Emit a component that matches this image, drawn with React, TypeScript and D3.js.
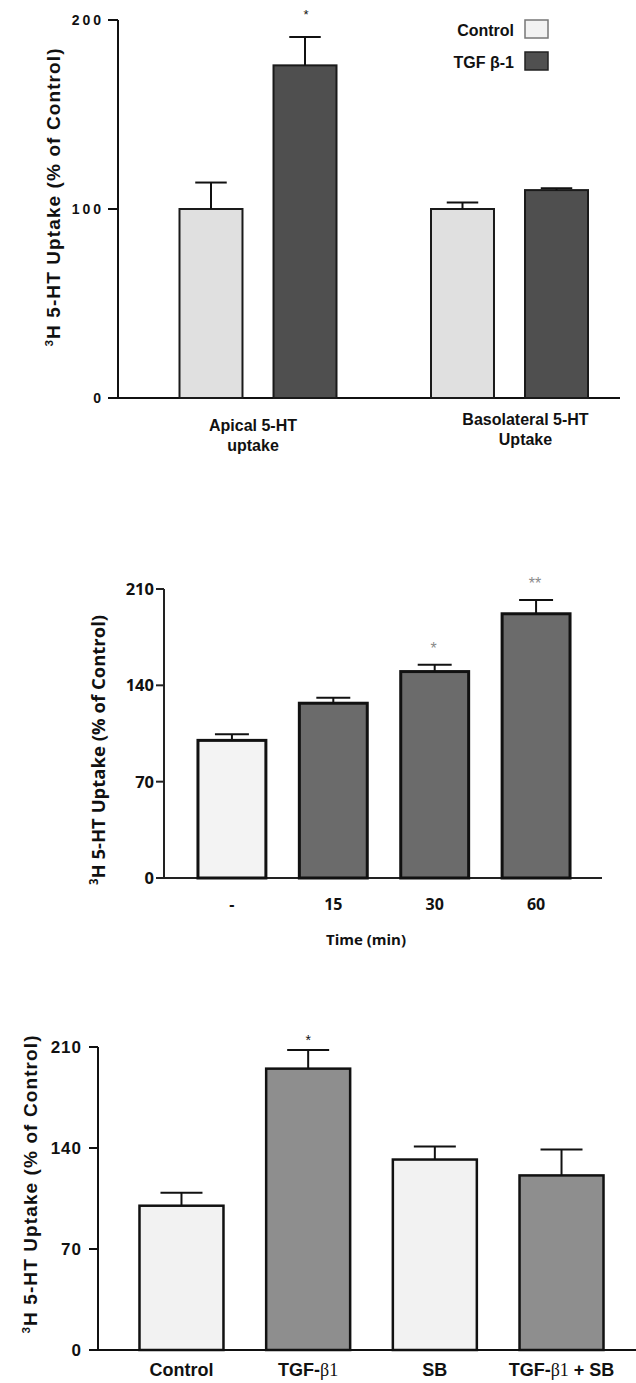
import * as d3 from 'd3'

// panel A: apical vs basolateral uptake
const regions = ['Apical 5-HT uptake', 'Basolateral 5-HT Uptake']
const regionLines = [['Apical 5-HT', 'uptake'], ['Basolateral 5-HT', 'Uptake']]
const series = ['Control', 'TGF β-1']
const controlMean = [100, 100]
const controlErr = [14, 3.5]
const tgfMean = [176, 110]
const tgfErr = [15, 1]
const regionStars = ['', '']
const tgfStars = ['*', '']
const ticksA = [0, 100, 200]

// panel B: time course
const times = ['-', '15', '30', '60']
const timeMean = [100, 127, 150, 192]
const timeErr = [4.5, 4, 5, 10]
const timeStars = ['', '', '*', '**']
const ticksB = [0, 70, 140, 210]

// panel C: inhibitor
const treatments = ['Control', 'TGF-β1', 'SB', 'TGF-β1 + SB']
const treatMean = [100, 195, 132, 121]
const treatErr = [9, 13, 9, 18]
const treatStars = ['', '*', '', '']
const ticksC = [0, 70, 140, 210]

const ARIAL = "'Liberation Sans', Arial, sans-serif"
const CAL = "'Open Sans', 'Noto Sans', sans-serif"
const SERIF = "'Liberation Serif', 'DejaVu Serif', serif"

function YLabel({ x, y, font, size, spacing }: any) {
  return (
    <text
      transform={`translate(${x},${y}) rotate(-90)`}
      textAnchor="middle"
      fontFamily={font}
      fontWeight="bold"
      fontSize={size}
      letterSpacing={spacing}
      fill="#111"
    >
      <tspan fontSize={size * 0.62} dy={-size * 0.38}>3</tspan>
      <tspan dy={size * 0.38}>H 5-HT Uptake (% of Control)</tspan>
    </text>
  )
}

function Beta({ text }: { text: string }) {
  // β and the following 1 are set in a serif face in the original
  const i = text.indexOf('β')
  if (i < 0) return <>{text}</>
  return (
    <>
      <tspan>{text.slice(0, i)}</tspan>
      <tspan fontFamily={SERIF} fontWeight="normal">β1</tspan>
      <tspan>{text.slice(i + 2)}</tspan>
    </>
  )
}

function ErrBar({ x, top, cap, half }: any) {
  return (
    <g stroke="#111" strokeWidth={2}>
      <line x1={x} x2={x} y1={top} y2={cap} />
      <line x1={x - half} x2={x + half} y1={cap} y2={cap} />
    </g>
  )
}

function PanelA() {
  const y = d3.scaleLinear().domain([0, 200]).range([398, 20])
  const x0 = d3.scalePoint<string>().domain(regions).range([258, 509.5])
  const x1 = d3.scaleBand<string>().domain(series).range([-78.5, 78.5]).paddingInner(0.33)
  const bw = x1.bandwidth()
  const fills = ['#e0e0e0', '#4f4f4f']
  const means = [controlMean, tgfMean]
  const errs = [controlErr, tgfErr]
  const stars = [regionStars, tgfStars]
  const labelShift = [-5, 16]
  const labelY = [431, 425]

  return (
    <g>
      <g stroke="#111" strokeWidth={2}>
        <line x1={118} x2={118} y1={y(200)} y2={y(0)} />
        <line x1={108} x2={620} y1={y(0)} y2={y(0)} />
        {ticksA.map(t => (
          <line key={t} x1={108} x2={118} y1={y(t)} y2={y(t)} />
        ))}
      </g>
      {ticksA.map(t => (
        <text key={t} x={104} y={y(t)} dy="0.36em" textAnchor="end" fontFamily={ARIAL}
          fontWeight="bold" fontSize={14} letterSpacing={3} fill="#111">{t}</text>
      ))}
      {regions.map((r, gi) => (
        <g key={r}>
          {series.map((s, si) => {
            const cx = x0(r)! + x1(s)! + bw / 2
            const top = y(means[si][gi])
            const cap = y(means[si][gi] + errs[si][gi])
            return (
              <g key={s}>
                <rect x={cx - bw / 2} y={top} width={bw} height={y(0) - top}
                  fill={fills[si]} stroke="#1a1a1a" strokeWidth={2} />
                <ErrBar x={cx} top={top} cap={cap} half={bw / 4} />
                {stars[si][gi] && (
                  <text x={cx + 1} y={19} textAnchor="middle" fontFamily={ARIAL}
                    fontSize={13} fill="#111">{stars[si][gi]}</text>
                )}
              </g>
            )
          })}
          {regionLines[gi].map((ln, li) => (
            <text key={li} x={x0(r)! + labelShift[gi]} y={labelY[gi] + li * 20} textAnchor="middle"
              fontFamily={ARIAL} fontWeight="bold" fontSize={16} fill="#111">{ln}</text>
          ))}
        </g>
      ))}
      {series.map((s, si) => (
        <g key={s}>
          <text x={514} y={36 + si * 32} textAnchor="end" fontFamily={ARIAL}
            fontWeight="bold" fontSize={16} fill="#111">{s}</text>
          <rect x={525} y={20 + si * 32} width={23} height={18}
            fill={si === 0 ? '#f2f2f2' : '#505050'} stroke={si === 0 ? '#777' : '#222'} strokeWidth={1.5} />
        </g>
      ))}
      <YLabel x={60} y={197} font={ARIAL} size={19} spacing={1.1} />
    </g>
  )
}

function PanelB() {
  const y = d3.scaleLinear().domain([0, 210]).range([878, 589])
  const x = d3.scaleBand<string>().domain(times).range([164, 604]).paddingInner(0.33).paddingOuter(0.335)
  const bw = x.bandwidth()

  return (
    <g>
      <g stroke="#222" strokeWidth={2}>
        <line x1={164} x2={164} y1={y(210)} y2={y(0)} />
        <line x1={156} x2={602} y1={y(0)} y2={y(0)} />
        {ticksB.map(t => (
          <line key={t} x1={156} x2={164} y1={y(t)} y2={y(t)} />
        ))}
      </g>
      {ticksB.map(t => (
        <text key={t} x={154} y={y(t)} dy="0.36em" textAnchor="end" fontFamily={CAL}
          fontWeight="bold" fontSize={16.5} fill="#111">{t}</text>
      ))}
      {times.map((t, i) => {
        const cx = x(t)! + bw / 2
        const top = y(timeMean[i])
        const cap = y(timeMean[i] + timeErr[i])
        return (
          <g key={t}>
            <rect x={x(t)!} y={top} width={bw} height={y(0) - top}
              fill={i === 0 ? '#f3f3f3' : '#6b6b6b'} stroke="#111" strokeWidth={3} />
            <ErrBar x={cx} top={top} cap={cap} half={bw / 4} />
            {timeStars[i] && (
              <text x={cx - 1} y={cap - 11} textAnchor="middle" fontFamily={ARIAL}
                fontSize={16} fill="#8a8a8a">{timeStars[i]}</text>
            )}
            <text x={cx} y={910} textAnchor="middle" fontFamily={CAL}
              fontWeight="bold" fontSize={16} fill="#111">{t}</text>
          </g>
        )
      })}
      <text x={366} y={945} textAnchor="middle" fontFamily={CAL} fontWeight="bold"
        fontSize={15} fill="#111">Time (min)</text>
      <YLabel x={105} y={750} font={CAL} size={18.5} spacing={0} />
    </g>
  )
}

function PanelC() {
  const y = d3.scaleLinear().domain([0, 210]).range([1350, 1047])
  const x = d3.scaleBand<string>().domain(treatments).range([98, 645]).paddingInner(0.337).paddingOuter(0.3275)
  const bw = x.bandwidth()

  return (
    <g>
      <g stroke="#111" strokeWidth={2}>
        <line x1={98} x2={98} y1={y(210)} y2={y(0)} />
        <line x1={89} x2={636} y1={y(0)} y2={y(0)} />
        {ticksC.map(t => (
          <line key={t} x1={89} x2={98} y1={y(t)} y2={y(t)} />
        ))}
      </g>
      {ticksC.map(t => (
        <text key={t} x={82} y={y(t)} dy="0.36em" textAnchor="end" fontFamily={ARIAL}
          fontWeight="bold" fontSize={17} letterSpacing={1} fill="#111">{t}</text>
      ))}
      {treatments.map((t, i) => {
        const cx = x(t)! + bw / 2
        const top = y(treatMean[i])
        const cap = y(treatMean[i] + treatErr[i])
        return (
          <g key={t}>
            <rect x={x(t)!} y={top} width={bw} height={y(0) - top}
              fill={i % 2 === 0 ? '#f2f2f2' : '#8e8e8e'} stroke="#111" strokeWidth={2.5} />
            <ErrBar x={cx} top={top} cap={cap} half={bw / 4} />
            {treatStars[i] && (
              <text x={cx} y={cap - 5} textAnchor="middle" fontFamily={ARIAL}
                fontSize={14} fill="#111">{treatStars[i]}</text>
            )}
            <text x={cx} y={1376} textAnchor="middle" fontFamily={ARIAL}
              fontWeight="bold" fontSize={18} fill="#111"><Beta text={t} /></text>
          </g>
        )
      })}
      <YLabel x={37} y={1184} font={ARIAL} size={19} spacing={1.1} />
    </g>
  )
}

export default function App() {
  return (
    <div style={{ position: 'absolute', left: 0, top: 0, background: '#fff' }}>
      <svg width={636} height={1383} style={{ display: 'block' }}>
        <rect width={636} height={1383} fill="#fff" />
        <PanelA />
        <PanelB />
        <PanelC />
      </svg>
    </div>
  )
}
